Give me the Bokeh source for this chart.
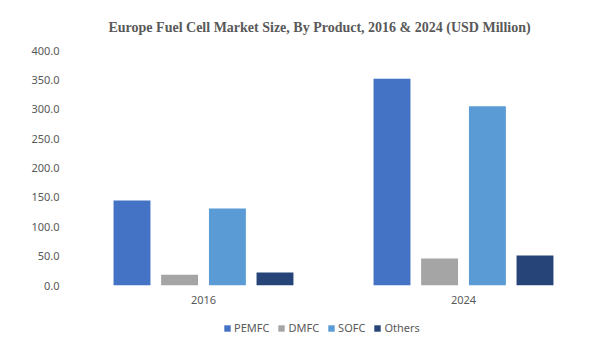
from bokeh.plotting import figure
from bokeh.models import ColumnDataSource, FactorRange, Range1d, Legend, LegendItem, NumeralTickFormatter, FixedTicker
from bokeh.layouts import column
from bokeh.transform import dodge
from bokeh.embed import file_html
from bokeh.resources import INLINE

years = ["2016", "2024"]
products = ["PEMFC", "DMFC", "SOFC", "Others"]
pemfc = [144.5, 352.0]
dmfc = [18.5, 46.0]
sofc = [131.0, 305.0]
others = [22.0, 51.0]
colors = ["#4472C4", "#A5A5A5", "#5B9BD5", "#264478"]
y_ticks = [0, 50, 100, 150, 200, 250, 300, 350, 400]

src = ColumnDataSource(dict(year=years, PEMFC=pemfc, DMFC=dmfc, SOFC=sofc, Others=others))

p = figure(width=614, height=310, x_range=FactorRange(factors=years, range_padding=0),
           y_range=Range1d(0, 400), output_backend="svg", toolbar_location=None,
           min_border_left=73, min_border_right=21, min_border_top=50, min_border_bottom=25,
           title="Europe Fuel Cell Market Size, By Product, 2016 & 2024 (USD Million)")
p.outline_line_color = None
p.grid.grid_line_color = None
p.background_fill_color = "white"

p.title.align = "left"
p.title.offset = 35
p.title.text_font = "Liberation Serif"
p.title.text_font_style = "bold"
p.title.text_font_size = "14px"
p.title.text_color = "#595959"
p.title.standoff = 31

offsets = [-0.275, -0.092, 0.092, 0.275]
for prod, col, off in zip(products, colors, offsets):
    p.vbar(x=dodge("year", off, range=p.x_range), top=prod, width=0.142, source=src,
           fill_color=col, line_color=None)

p.yaxis.ticker = FixedTicker(ticks=y_ticks)
p.yaxis.formatter = NumeralTickFormatter(format="0.0")
for ax in (p.xaxis[0], p.yaxis[0]):
    ax.axis_line_color = None
    ax.major_tick_line_color = None
    ax.minor_tick_line_color = None
    ax.major_label_text_color = "#595959"
    ax.major_label_text_font = "Noto Sans"
    ax.major_label_text_font_size = "11px"
p.yaxis.major_label_standoff = 8
p.xaxis.major_label_standoff = 4

# legend strip below the chart (placeholder renderers sit outside the visible range)
lf = figure(width=614, height=45, x_range=Range1d(0, 1), y_range=Range1d(0, 1),
            output_backend="svg", toolbar_location=None,
            min_border_left=73, min_border_right=21, min_border_top=0, min_border_bottom=0)
lf.axis.visible = False
lf.grid.grid_line_color = None
lf.outline_line_color = None
leg_renderers = []
for col in colors:
    r = lf.vbar(x=[-5], top=[0], width=0.1, fill_color=col, line_color=None)
    leg_renderers.append(r)

legend = Legend(items=[LegendItem(label=n, renderers=[r]) for n, r in zip(products, leg_renderers)],
                orientation="horizontal", location=(150, 20),
                glyph_width=8, glyph_height=8, label_standoff=3, spacing=8,
                label_text_font="Noto Sans", label_text_font_size="11px",
                label_text_color="#595959", background_fill_alpha=0, border_line_color=None,
                padding=0, margin=0)
lf.add_layout(legend, "center")

layout = column(p, lf, spacing=0)
open("out.html", "w").write(file_html(layout, INLINE))
